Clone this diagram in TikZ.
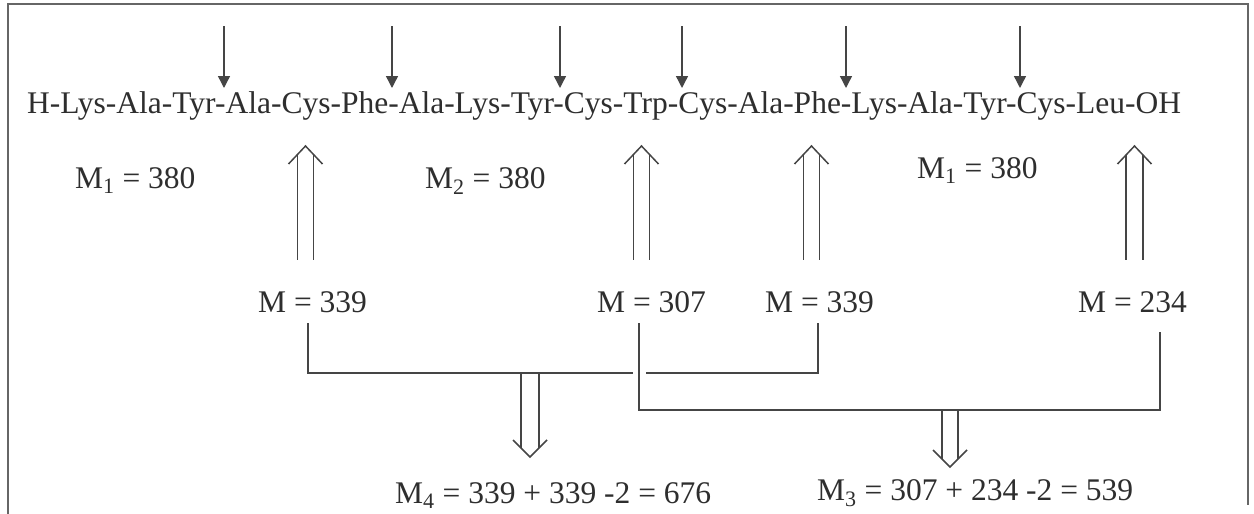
\documentclass[tikz,border=0pt]{standalone}
\usepackage{fontspec}
\setmainfont{Liberation Serif}
\usetikzlibrary{arrows.meta,calc}
\definecolor{ink}{HTML}{2E2E2E}
\definecolor{linec}{HTML}{454545}
\newcommand\dblup[3]{% tip coordinate, bottom coordinate (same x), half-gap
  \draw[dblline] ($(#1)+(-17,18)$) -- (#1) -- ($(#1)+(17,18)$);
  \draw[dblline] ($(#1)+(-#3,{18*#3/17})$) -- ($(#2)+(-#3,0)$);
  \draw[dblline] ($(#1)+(#3,{18*#3/17})$) -- ($(#2)+(#3,0)$);
}
\newcommand\dbldown[3]{% top coordinate, tip coordinate, half-gap
  \draw[dblline] ($(#2)+(-17,-17)$) -- (#2) -- ($(#2)+(17,-17)$);
  \draw[dblline] (#1) ++(-#3,0) -- ($(#2)+(-#3,{-17*#3/17})$);
  \draw[dblline] (#1) ++(#3,0) -- ($(#2)+(#3,{-17*#3/17})$);
}
\begin{document}
\begin{tikzpicture}[x=1pt,y=-1pt,
  txt/.style={inner sep=0pt,anchor=base west,text=ink,font=\fontsize{31.5}{36}\selectfont},
  thin arrow/.style={draw=linec,line width=1.4pt,-{Triangle[width=12pt,length=12pt]}},
  dblline/.style={draw=linec,line width=1.5pt},
  bracket/.style={draw=linec,line width=1.7pt},
  frame/.style={draw=gray!80!black,line width=1.8pt}]
\useasboundingbox[fill=white] (0,0) rectangle (1254,514);
% frame
\draw[frame] (8,514) -- (8,4) -- (1248,4) -- (1248,505);
% peptide
\node[txt] (pep) at (27,113) {H-Lys-Ala-Tyr-Ala-Cys-Phe-Ala-Lys-Tyr-Cys-Trp-Cys-Ala-Phe-Lys-Ala-Tyr-Cys-Leu-OH};
% cleavage arrows
\foreach \x [count=\i] in {224,392,560,682,846,1020}{
  \coordinate (c\i) at (\x,26);
  \coordinate (t\i) at (\x,88);
  \draw[thin arrow] (c\i) -- (t\i);
}
% fragment masses
\node[txt] (m1a) at (75,188) {M\textsubscript{1} = 380};
\node[txt] (m2) at (425,188) {M\textsubscript{2} = 380};
\node[txt] (m1b) at (917,178) {M\textsubscript{1} = 380};
% labels
\node[txt] (a) at (258,312) {M = 339};
\node[txt] (b) at (597,312) {M = 307};
\node[txt] (c) at (765,312) {M = 339};
\node[txt] (d) at (1078,312) {M = 234};
\node[txt] (m4) at (395,503) {M\textsubscript{4} = 339 + 339 -2 = 676};
\node[txt] (m3) at (817,500) {M\textsubscript{3} = 307 + 234 -2 = 539};
% double up arrows
\coordinate (ua) at (305.5,146); \coordinate (ba) at (305.5,260);
\coordinate (ub) at (641.5,146); \coordinate (bb) at (641.5,260);
\coordinate (uc) at (811.5,146); \coordinate (bc) at (811.5,260);
\coordinate (ud) at (1134.5,146); \coordinate (bd) at (1134.5,260);
\dblup{ua}{ba}{7.8}
\dblup{ub}{bb}{8}
\dblup{uc}{bc}{8.2}
\dblup{ud}{bd}{8.4}
% brackets
\coordinate (a1) at (308,323); \coordinate (c1) at (818,323);
\coordinate (b1) at (639,323); \coordinate (d1) at (1160,332);
\draw[bracket] (a1) -- (308,373) -- (633,373);
\draw[bracket] (646,373) -- (818,373) -- (c1);
\draw[bracket] (b1) -- (639,410) -- (1160,410) -- (d1);
% double down arrows
\coordinate (s4) at (530,373); \coordinate (e4) at (530,457);
\coordinate (s3) at (950,410); \coordinate (e3) at (950,467);
\dbldown{s4}{e4}{9}
\dbldown{s3}{e3}{8}
\end{tikzpicture}
\end{document}
